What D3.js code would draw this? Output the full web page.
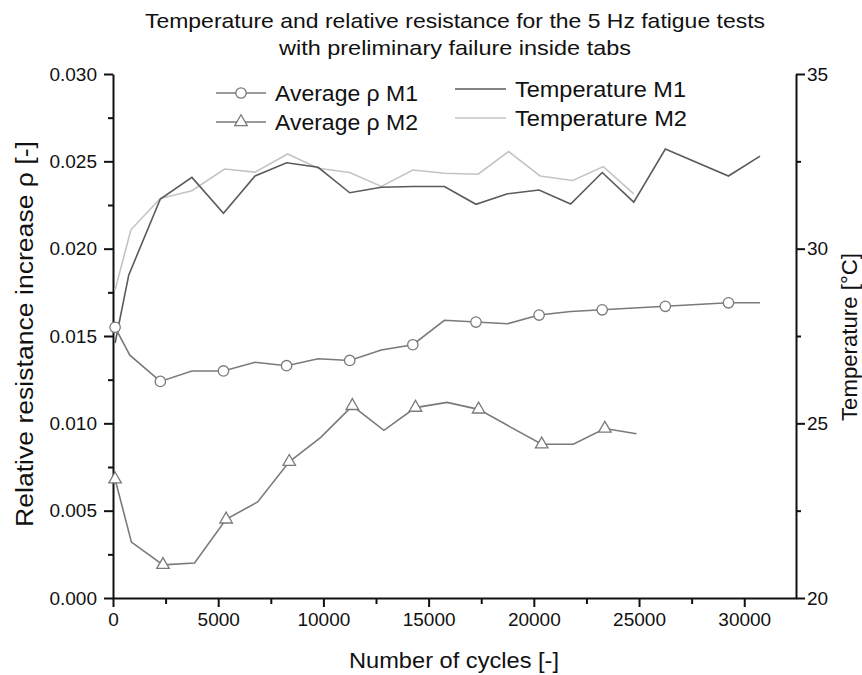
<!DOCTYPE html>
<html><head><meta charset="utf-8">
<script src="https://cdn.jsdelivr.net/npm/d3@7"></script>
<style>body{margin:0;background:#fff;} text{font-family:"Liberation Sans",Arial,sans-serif;fill:#111;}</style>
</head><body>
<svg id="c" width="862" height="675"></svg>
<script>
const titleLines = ["Temperature and relative resistance for the 5 Hz fatigue tests", "with preliminary failure inside tabs"];
const xTicks = [0, 5000, 10000, 15000, 20000, 25000, 30000];
const yLeftTicks = [0.000, 0.005, 0.010, 0.015, 0.020, 0.025, 0.030];
const yRightTicks = [20, 25, 30, 35];

const cyclesM1 = [100, 800, 2250, 3750, 5250, 6750, 8250, 9750, 11250, 12750, 14250, 15750, 17250, 18750, 20250, 21750, 23250, 24750, 26250, 27750, 29250, 30750];
const rhoM1 = [0.0155, 0.0139, 0.0124, 0.0130, 0.0130, 0.0135, 0.0133, 0.0137, 0.0136, 0.0142, 0.0145, 0.0159, 0.0158, 0.0157, 0.0162, 0.0164, 0.0165, 0.0166, 0.0167, 0.0168, 0.0169, 0.0169];
const markM1 = [1,0,1,0,1,0,1,0,1,0,1,0,1,0,1,0,1,0,1,0,1,0];

const cyclesM2 = [100, 875, 2375, 3875, 5375, 6875, 8375, 9875, 11375, 12875, 14375, 15875, 17375, 18875, 20375, 21875, 23375, 24875];
const rhoM2 = [0.0068, 0.0032, 0.0019, 0.0020, 0.0045, 0.0055, 0.0078, 0.0092, 0.0110, 0.0096, 0.0109, 0.0112, 0.0108, 0.0098, 0.0088, 0.0088, 0.0097, 0.0094];
const markM2 = [1,0,1,0,1,0,1,0,1,0,1,0,1,0,1,0,1,0];

const cyclesT1 = [100, 750, 2250, 3750, 5250, 6750, 8250, 9750, 11250, 12750, 14250, 15750, 17250, 18750, 20250, 21750, 23250, 24750, 26250, 29250, 30750];
const tempM1 = [27.3, 29.25, 31.42, 32.04, 31.01, 32.08, 32.46, 32.33, 31.60, 31.76, 31.78, 31.78, 31.27, 31.57, 31.68, 31.28, 32.18, 31.33, 32.85, 32.08, 32.65];

const cyclesT2 = [100, 850, 2250, 3750, 5300, 6750, 8300, 9750, 11250, 12750, 14250, 15750, 17350, 18800, 20300, 21850, 23300, 24750];
const tempM2 = [28.82, 30.54, 31.44, 31.66, 32.28, 32.19, 32.71, 32.30, 32.18, 31.78, 32.25, 32.16, 32.13, 32.78, 32.08, 31.95, 32.35, 31.57];

const legendLeft = ["Average ρ M1", "Average ρ M2"];
const legendRight = ["Temperature M1", "Temperature M2"];

const svg = d3.select("#c");
const L = 113, R = 796, T = 74, B = 598;
const x = d3.scaleLinear().domain([0, 32460]).range([L, R]);
const yL = d3.scaleLinear().domain([0, 0.030]).range([B, T]);
const yR = d3.scaleLinear().domain([20, 35]).range([B, T]);

// title
const titleW = [620, 352];
svg.append("g").selectAll("text").data(titleLines).join("text")
  .attr("x", 455).attr("y", (d,i) => 28 + i*27).attr("text-anchor","middle")
  .attr("textLength", (d,i) => titleW[i]).attr("lengthAdjust","spacingAndGlyphs")
  .style("font-size","21px").text(d => d);

// axes
function styleAxis(g){
  g.select(".domain").attr("stroke","#111").attr("stroke-width",2);
  g.selectAll(".tick line").attr("stroke","#111").attr("stroke-width",2);
  g.selectAll(".tick text").style("font-size","19px").attr("fill","#111");
}
function minor(g){ g.select(".domain").remove(); g.selectAll(".tick line").attr("stroke","#111").attr("stroke-width",2); }
const xMinor = d3.range(2500, 32460, 5000);
svg.append("g").attr("transform",`translate(0,${B})`)
  .call(d3.axisBottom(x).tickValues(xMinor).tickSize(6).tickFormat("").tickSizeOuter(0)).call(minor);
svg.append("g").attr("transform",`translate(0,${B})`)
  .call(d3.axisBottom(x).tickValues(xTicks).tickSize(9).tickPadding(6).tickFormat(d3.format("d")).tickSizeOuter(0))
  .call(styleAxis);

svg.append("g").attr("transform",`translate(${L},0)`)
  .call(d3.axisLeft(yL).tickValues(d3.range(0.0025, 0.030, 0.005)).tickSize(5).tickFormat("").tickSizeOuter(0)).call(minor);
svg.append("g").attr("transform",`translate(${L},0)`)
  .call(d3.axisLeft(yL).tickValues(yLeftTicks).tickSize(9).tickPadding(7).tickFormat(d3.format(".3f")).tickSizeOuter(0))
  .call(styleAxis);

svg.append("g").attr("transform",`translate(${R},0)`)
  .call(d3.axisRight(yR).tickValues([22.5, 27.5, 32.5]).tickSize(5).tickFormat("").tickSizeOuter(0)).call(minor);
svg.append("g").attr("transform",`translate(${R},0)`)
  .call(d3.axisRight(yR).tickValues(yRightTicks).tickSize(9).tickPadding(2).tickFormat(d3.format("d")).tickSizeOuter(0))
  .call(styleAxis);

// axis titles
svg.append("text").attr("x", 454).attr("y", 668).attr("text-anchor","middle")
  .attr("textLength", 210).attr("lengthAdjust","spacingAndGlyphs").style("font-size","22px").text("Number of cycles [-]");
svg.append("text").attr("transform","translate(33,334) rotate(-90)").attr("text-anchor","middle")
  .attr("textLength", 386).attr("lengthAdjust","spacingAndGlyphs").style("font-size","23px").text("Relative resistance increase ρ [-]");
svg.append("text").attr("transform","translate(857,337) rotate(-90)").attr("text-anchor","middle")
  .attr("textLength", 168).attr("lengthAdjust","spacingAndGlyphs").style("font-size","22px").text("Temperature [°C]");

// temperature lines
const lineT = d3.line().x(d => x(d[0])).y(d => yR(d[1]));
svg.append("path").datum(d3.zip(cyclesT2, tempM2)).attr("d", lineT)
  .attr("fill","none").attr("stroke","#c4c4c4").attr("stroke-width",1.6);
svg.append("path").datum(d3.zip(cyclesT1, tempM1)).attr("d", lineT)
  .attr("fill","none").attr("stroke","#5a5a5a").attr("stroke-width",1.6);

// rho lines
const lineR = d3.line().x(d => x(d[0])).y(d => yL(d[1]));
const stroke = "#7a7a7a";
svg.append("path").datum(d3.zip(cyclesM1, rhoM1)).attr("d", lineR)
  .attr("fill","none").attr("stroke",stroke).attr("stroke-width",1.6);
svg.append("path").datum(d3.zip(cyclesM2, rhoM2)).attr("d", lineR)
  .attr("fill","none").attr("stroke",stroke).attr("stroke-width",1.6);

const circ = d3.symbol().type(d3.symbolCircle).size(85);
const tri = d3.symbol().type(d3.symbolTriangle).size(68);
svg.append("g").selectAll("path").data(d3.zip(cyclesM1, rhoM1, markM1).filter(d => d[2])).join("path")
  .attr("d", circ).attr("transform", d => `translate(${x(d[0])},${yL(d[1])})`)
  .attr("fill","#fff").attr("stroke",stroke).attr("stroke-width",1.3);
svg.append("g").selectAll("path").data(d3.zip(cyclesM2, rhoM2, markM2).filter(d => d[2])).join("path")
  .attr("d", tri).attr("transform", d => `translate(${x(d[0])},${yL(d[1])})`)
  .attr("fill","#fff").attr("stroke",stroke).attr("stroke-width",1.3);

// legend
const lg = svg.append("g");
const leftRows = [93, 122];
const leftW = [143, 143];
legendLeft.forEach((t,i) => {
  const y = leftRows[i];
  lg.append("line").attr("x1",216).attr("x2",266).attr("y1",y).attr("y2",y).attr("stroke",stroke).attr("stroke-width",1.6);
  lg.append("path").attr("d", i===0 ? circ() : tri()).attr("transform",`translate(241,${y})`)
    .attr("fill","#fff").attr("stroke",stroke).attr("stroke-width",1.3);
  lg.append("text").attr("x",275).attr("y",y+8).attr("textLength",leftW[i]).attr("lengthAdjust","spacingAndGlyphs")
    .style("font-size","22px").text(t);
});
const rightRows = [89, 118];
const rightW = [171, 172];
const rc = ["#5a5a5a", "#c4c4c4"];
legendRight.forEach((t,i) => {
  const y = rightRows[i];
  lg.append("line").attr("x1",455).attr("x2",506).attr("y1",y).attr("y2",y).attr("stroke",rc[i]).attr("stroke-width",1.6);
  lg.append("text").attr("x",515).attr("y",y+8).attr("textLength",rightW[i]).attr("lengthAdjust","spacingAndGlyphs")
    .style("font-size","22px").text(t);
});
</script>
</body></html>
